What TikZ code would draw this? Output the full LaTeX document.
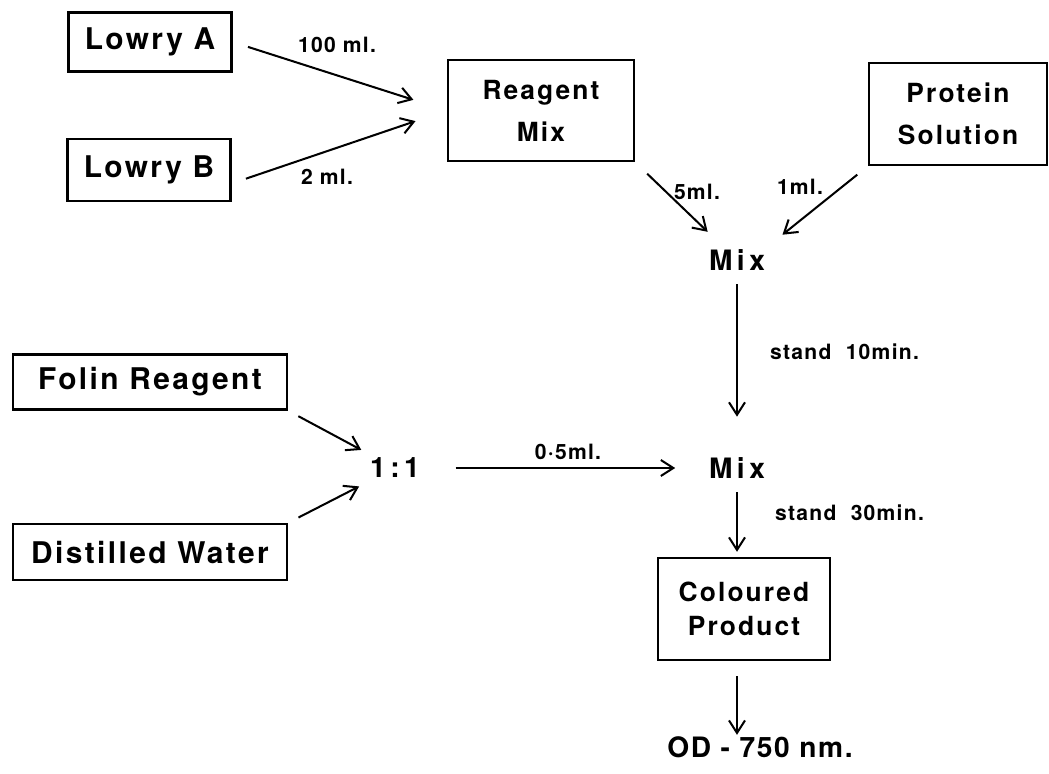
\documentclass[tikz,border=0pt]{standalone}
\usepackage{fontspec}
\setmainfont{TeX Gyre Heros}
\newfontfamily\boxfont{TeX Gyre Heros}[LetterSpace=8]
\newfontfamily\stepfont{TeX Gyre Heros}[LetterSpace=16]
\newfontfamily\lblfont{TeX Gyre Heros}[LetterSpace=6]
\usetikzlibrary{arrows.meta, positioning, calc}

\begin{document}
\begin{tikzpicture}[
  box/.style={rectangle, draw, line width=1.4pt, minimum width=3.26cm, minimum height=1.18cm, align=center, font=\boxfont\bfseries\fontsize{17}{20}\selectfont},
  widebox/.style={box, minimum width=5.48cm, minimum height=1.1cm},
  tallbox/.style={rectangle, draw, line width=1.4pt, minimum height=2.04cm, align=center, font=\boxfont\bfseries\fontsize{15}{24}\selectfont},
  mix/.style={inner sep=2pt, font=\stepfont\bfseries\fontsize{16}{19}\selectfont},
  lbl/.style={inner sep=1pt, font=\lblfont\bfseries\fontsize{12}{14}\selectfont},
  arr/.style={-{Straight Barb[length=2.5mm, width=3.2mm]}, line width=1.15pt}
]
\useasboundingbox (0,0) rectangle (20.98,-15.46);
% Lowry reagent and protein
\node[box] (lowa) at (3.0,-0.84) {Lowry A};
\node[box, minimum height=1.24cm] (lowb) at (2.98,-3.40) {Lowry B};
\node[tallbox, minimum width=3.72cm, minimum height=2.02cm] (reagent) at (10.82,-2.21) {Reagent\\Mix};
\node[tallbox, minimum width=3.56cm] (protein) at (19.16,-2.28) {Protein\\Solution};
\node[mix] (mixa) at (14.74,-5.2) {Mix};
% Folin step
\node[widebox] (folin) at (3.0,-7.64) {Folin Reagent};
\node[widebox, minimum height=1.12cm] (water) at (3.0,-11.04) {Distilled Water};
\node[mix] (ratio) at (7.9,-9.36) {1:1};
\node[mix] (mixb) at (14.74,-9.36) {Mix};
\node[tallbox, minimum width=3.44cm, font=\boxfont\bfseries\fontsize{15}{19}\selectfont] (product) at (14.88,-12.18) {Coloured\\Product};
\node[inner sep=1pt, font=\lblfont\bfseries\fontsize{16}{19}\selectfont] (od) at (15.2,-14.95) {OD - 750 nm.};
% Labels
\node[lbl] (l100) at (6.74,-0.9) {100 ml.};
\node[lbl] (l2) at (6.54,-3.54) {2 ml.};
\node[lbl] (l5) at (13.94,-3.84) {5ml.};
\node[lbl] (l1) at (16.0,-3.74) {1ml.};
\node[lbl, anchor=west] (l10) at (15.36,-7.04) {stand\ \ 10min.};
\node[lbl] (l05) at (11.36,-9.04) {0·5ml.};
\node[lbl, anchor=west] (l30) at (15.46,-10.26) {stand\ \ 30min.};
% Arrows
\draw[arr, shorten <=0.32cm, shorten >=0.7cm] (lowa.east) -- (reagent.west);
\draw[arr, shorten <=0.3cm, shorten >=0.66cm] ([yshift=-0.27cm]lowb.east) -- (reagent.west);
\draw[arr, shorten <=0.33cm, shorten >=0.4cm] (reagent.south east) -- (mixa);
\draw[arr, shorten <=0.27cm, shorten >=0.35cm] (protein.south west) -- (mixa.north east);
\draw[arr, shorten <=0.2cm, shorten >=0.74cm] (mixa) -- (mixb);
\draw[arr, shorten <=0.64cm, shorten >=0.6cm] (ratio) -- (mixb);
\draw[arr, shorten <=0.23cm, shorten >=0.18cm] (folin.south east) -- (ratio);
\draw[arr, shorten <=0.23cm, shorten >=0.2cm] (water.north east) -- (ratio);
\draw[arr, shorten <=0.2cm, shorten >=0.1cm] (mixb) -- (mixb |- product.north);
\draw[arr, shorten <=0.3cm] ([xshift=-0.14cm]product.south) -- ([xshift=-0.14cm]product.south |- od.north);
\end{tikzpicture}
\end{document}
